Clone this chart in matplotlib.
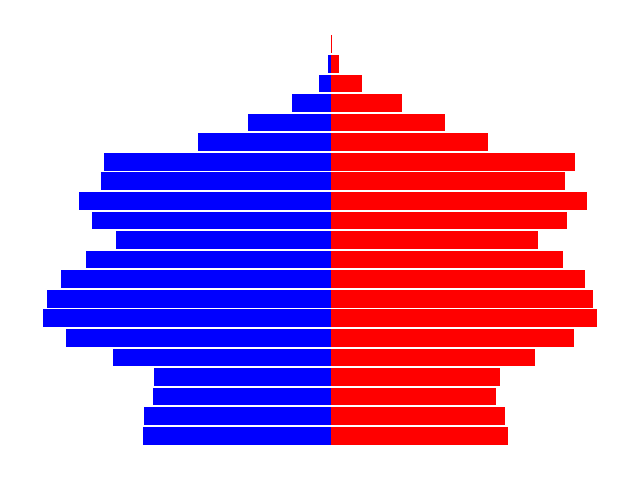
import matplotlib
matplotlib.use("Agg")
import matplotlib.pyplot as plt

# age groups, youngest first
ages = ["0-4", "5-9", "10-14", "15-19", "20-24", "25-29", "30-34", "35-39",
        "40-44", "45-49", "50-54", "55-59", "60-64", "65-69", "70-74",
        "75-79", "80-84", "85-89", "90-94", "95-99", "100+"]
male = [188, 187, 178, 177, 218, 265, 288, 284, 270, 245, 215, 239, 252,
        230, 227, 133, 83, 39, 12, 3, 0.3]
female = [177, 174, 165, 169, 204, 243, 266, 262, 254, 232, 207, 236, 256,
          234, 244, 157, 114, 71, 31, 8, 1]

fig = plt.figure(figsize=(6.4, 4.8), dpi=100)
ax = fig.add_subplot(111)

pos = range(len(ages))
ax.barh(pos, [-m for m in male], height=0.9, color='blue')
ax.barh(pos, female, height=0.9, color='red')

plt.axis('off')
plt.tight_layout()
plt.savefig("out.png")
